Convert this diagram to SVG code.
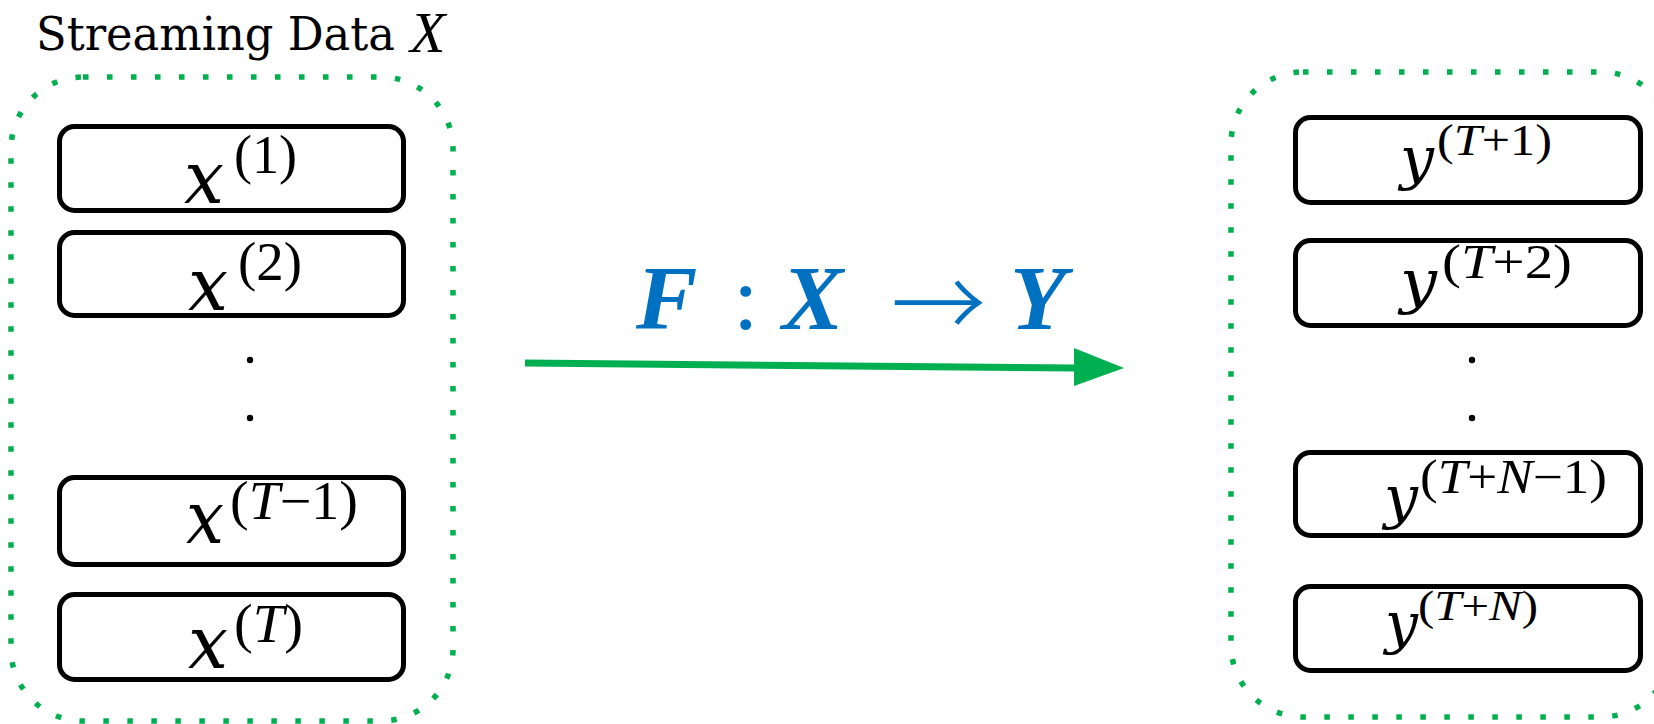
<svg xmlns="http://www.w3.org/2000/svg" width="1654" height="724" viewBox="0 0 1654 724">
<style>
.cont{fill:none;stroke:#00B050;stroke-width:5.5;stroke-dasharray:5.5 18.5}
.box{fill:#fff;stroke:#000;stroke-width:5}
.mi{font-family:"DejaVu Serif","Liberation Serif",serif;font-style:italic;fill:#000}
.sup{font-family:"Liberation Serif","Times New Roman",serif;fill:#000}
.sup tspan.i{font-style:italic}
.title{font-family:"DejaVu Serif","Liberation Serif",serif;fill:#000}
.blue{font-family:"Liberation Serif","Times New Roman",serif;fill:#0070C0}
.bi{font-weight:bold;font-style:italic}
.dot{fill:#000}
</style>
<text class="title" x="36" y="50" font-size="46" textLength="359" lengthAdjust="spacingAndGlyphs">Streaming Data</text>
<text class="sup" x="410" y="52" font-size="58" font-style="italic">X</text>

<g id="input-container">
<rect class="cont" x="11" y="77" width="442" height="644" rx="72"/>
</g>
<g id="output-container">
<rect class="cont" x="1231" y="72" width="442" height="645" rx="72"/>
</g>

<g id="x1">
<rect class="box" x="59.5" y="126.5" width="344" height="84" rx="15"/>
<text class="mi" x="184" y="203" font-size="72" textLength="40" lengthAdjust="spacingAndGlyphs">x</text>
<text class="sup" x="234" y="173" font-size="54" textLength="63" lengthAdjust="spacingAndGlyphs">(1)</text>
</g>
<g id="x2">
<rect class="box" x="59.5" y="232.5" width="344" height="83" rx="15"/>
<text class="mi" x="188" y="310" font-size="72" textLength="40" lengthAdjust="spacingAndGlyphs">x</text>
<text class="sup" x="238" y="280" font-size="54" textLength="64" lengthAdjust="spacingAndGlyphs">(2)</text>
</g>
<g id="x-dots">
<circle class="dot" cx="250" cy="360" r="3.2"/>
<circle class="dot" cx="250" cy="418" r="3.2"/>
</g>
<g id="xT-1">
<rect class="box" x="59.5" y="477.5" width="344" height="87" rx="15"/>
<text class="mi" x="186" y="543" font-size="72" textLength="38" lengthAdjust="spacingAndGlyphs">x</text>
<text class="sup" x="230" y="519" font-size="54" textLength="128" lengthAdjust="spacingAndGlyphs">(<tspan class="i">T</tspan>−1)</text>
</g>
<g id="xT">
<rect class="box" x="59.5" y="594.5" width="344" height="85" rx="15"/>
<text class="mi" x="188" y="668" font-size="72" textLength="40" lengthAdjust="spacingAndGlyphs">x</text>
<text class="sup" x="234" y="642" font-size="54" textLength="69" lengthAdjust="spacingAndGlyphs">(<tspan class="i">T</tspan>)</text>
</g>

<g id="yT1">
<rect class="box" x="1295.5" y="117.5" width="345" height="85" rx="15"/>
<text class="mi" x="1400" y="178" font-size="58" textLength="34" lengthAdjust="spacingAndGlyphs">y</text>
<text class="sup" x="1437" y="155" font-size="44" textLength="115" lengthAdjust="spacingAndGlyphs">(<tspan class="i">T</tspan>+1)</text>
</g>
<g id="yT2">
<rect class="box" x="1295.5" y="240.5" width="345" height="85" rx="15"/>
<text class="mi" x="1400" y="302" font-size="60" textLength="37" lengthAdjust="spacingAndGlyphs">y</text>
<text class="sup" x="1442" y="278" font-size="48" textLength="130" lengthAdjust="spacingAndGlyphs">(<tspan class="i">T</tspan>+2)</text>
</g>
<g id="y-dots">
<circle class="dot" cx="1472" cy="360" r="3.2"/>
<circle class="dot" cx="1472" cy="418" r="3.2"/>
</g>
<g id="yTN-1">
<rect class="box" x="1295.5" y="452.5" width="345" height="83" rx="15"/>
<text class="mi" x="1384" y="517" font-size="58" textLength="34" lengthAdjust="spacingAndGlyphs">y</text>
<text class="sup" x="1420" y="493" font-size="48" textLength="187" lengthAdjust="spacingAndGlyphs">(<tspan class="i">T</tspan>+<tspan class="i">N</tspan>−1)</text>
</g>
<g id="yTN">
<rect class="box" x="1295.5" y="586.5" width="345" height="84" rx="15"/>
<text class="mi" x="1385" y="643" font-size="56" textLength="33" lengthAdjust="spacingAndGlyphs">y</text>
<text class="sup" x="1418" y="620" font-size="42" textLength="120" lengthAdjust="spacingAndGlyphs">(<tspan class="i">T</tspan>+<tspan class="i">N</tspan>)</text>
</g>

<g id="connectors">
<line x1="525" y1="363" x2="1076" y2="368" stroke="#00B050" stroke-width="7"/>
<polygon points="1074,348 1124,368 1074,386" fill="#00B050"/>
</g>
<g id="mapping-label">
<text class="blue bi" x="636" y="329" font-size="92">F</text>
<text class="blue" x="733" y="329" font-size="92">:</text>
<text class="blue bi" x="782" y="329" font-size="92">X</text>
<text x="891" y="339" font-size="95" fill="#0070C0" font-weight="300" style="font-family:'Noto Sans CJK JP','Noto Sans CJK SC',sans-serif">→</text>
<text class="blue bi" x="1010" y="329" font-size="92">Y</text>
</g>
</svg>
